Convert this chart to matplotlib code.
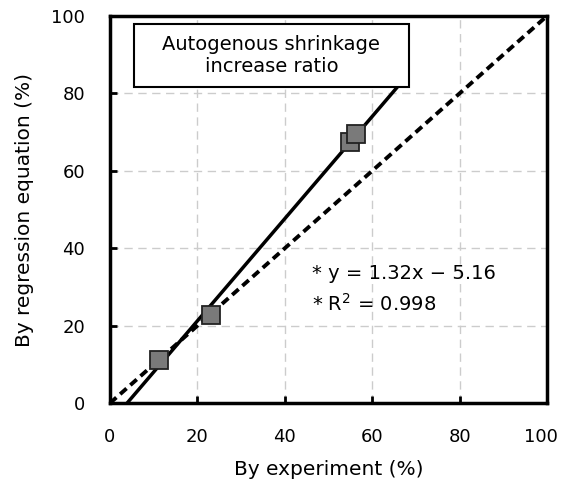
import matplotlib.pyplot as plt
from matplotlib.patches import Rectangle
from matplotlib.transforms import ScaledTranslation
import numpy as np

# experiment vs regression values (%)
exp_vals = [11.2, 23.1, 55.0, 56.4]
reg_vals = [11.1, 22.8, 67.4, 69.4]

slope = 1.32
intercept = -5.16
r2 = 0.998

ticks = [0, 20, 40, 60, 80, 100]

fig = plt.figure(figsize=(5.61, 4.84), dpi=100)
ax = fig.add_axes([0.196, 0.167, 0.779, 0.800])

# grid
for t in ticks[1:-1]:
    ax.axvline(t, color='#cccccc', lw=1, ls=(0, (6, 4)), zorder=0)
    ax.axhline(t, color='#cccccc', lw=1, ls=(0, (6, 4)), zorder=0)

# 1:1 line
ax.plot([0, 100], [0, 100], color='black', lw=2.8, ls=(0, (2.2, 1.3)), zorder=2)

# title box; regression line stops at its lower edge
box_x, box_y, box_w, box_h = 5.5, 81.6, 62.9, 16.2
x0 = -intercept / slope
x1 = (box_y - intercept) / slope
xs = np.array([x0, x1])
ax.plot(xs, slope * xs + intercept, color='black', lw=2.5, zorder=2)

ax.plot(exp_vals, reg_vals, 's', ms=13, mfc='#7a7a7a', mec='#222222', mew=1.3, zorder=3)

ax.add_patch(Rectangle((box_x, box_y), box_w, box_h, fc='white', ec='black', lw=1.5, zorder=5))
ax.text(box_x + box_w / 2, box_y + box_h / 2, "Autogenous shrinkage\nincrease ratio",
        ha='center', va='center', fontsize=14, linespacing=1.2, zorder=6)

ax.text(46.3, 33.5, "* y = 1.32x − 5.16", fontsize=14, va='center')
ax.text(46.3, 25.6, "* R$^2$ = 0.998", fontsize=14, va='center')

ax.set_xlim(0, 100)
ax.set_ylim(0, 100)
ax.set_xticks(ticks)
ax.set_yticks(ticks)
ax.tick_params(direction='in', length=5, width=2, labelsize=13)
ax.tick_params(axis='x', pad=18)
ax.tick_params(axis='y', pad=18)
for s in ax.spines.values():
    s.set_linewidth(2.5)

# keep the last x label inside the figure
last = ax.get_xticklabels()[-1]
last.set_transform(last.get_transform() + ScaledTranslation(-4 / 72, 0, fig.dpi_scale_trans))

ax.set_xlabel("By experiment (%)", fontsize=14.5, labelpad=10)
ax.set_ylabel("By regression equation (%)", fontsize=14.5, labelpad=12)

fig.savefig("out.png", dpi=100)
